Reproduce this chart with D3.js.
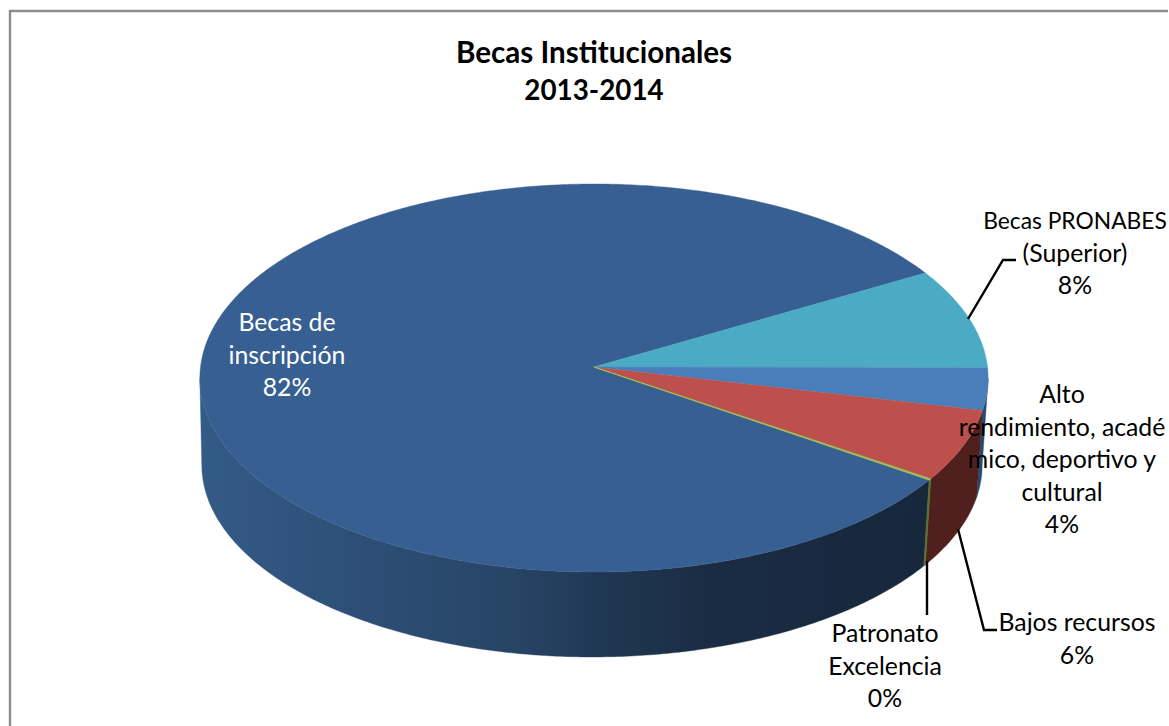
<!DOCTYPE html>
<html>
<head>
<meta charset="utf-8">
<script src="https://cdn.jsdelivr.net/npm/d3@7"></script>
<style>
  html, body { margin: 0; padding: 0; background: #fff; }
  svg { display: block; }
  text { font-family: Lato, "Open Sans", sans-serif; }
</style>
</head>
<body>
<svg id="chart" width="1169" height="726"></svg>
<script>
// Chart values, in the order of the original series
var categories = ["Becas de inscripción", "Becas PRONABES (Superior)", "Alto rendimiento, académico, deportivo y cultural", "Bajos recursos", "Patronato Excelencia"];
var shares     = [82.1, 8.4, 3.5, 5.9, 0.1];
var percents   = ["82%", "8%", "4%", "6%", "0%"];
var top_colors = ["#375f92", "#4babc5", "#4a7ebb", "#bd504d", "#9bbb59"];

var title_lines = ["Becas Institucionales", "2013-2014"];

// Positions of the labels, separate from the data
var LABELS = [
  { x: 287,  y: 331, fill: "#fff", lines: ["Becas de", "inscripción", "82%"] },
  { x: 1075, y: 229, fill: "#000", lines: ["Becas PRONABES", "(Superior)", "8%"] },
  { x: 1062, y: 403, fill: "#000", lines: ["Alto", "rendimiento, acadé", "mico, deportivo y", "cultural", "4%"] },
  { x: 1077, y: 631, fill: "#000", lines: ["Bajos recursos", "6%"] },
  { x: 885,  y: 642, fill: "#000", lines: ["Patronato", "Excelencia", "0%"] }
];

var LEADERS = [
  [[968, 319], [1003, 260], [1016, 260]],
  [[958, 529], [984, 630], [997, 630]],
  [[927, 561], [927, 615]]
];

// Where the pie sits on the page
var CX = 594, CY = 367, RX = 393.5, RY = 193.4, PERSP = 0.0567;
var DEPTH = 87, BOTTOM_SCALE = 0.99, BOTTOM_SHIFT = -2;
var LINE_H = 32.5;
var FIRST_GAP = -0.5236; // the big slice ends here, measured from 3 o'clock

var svg = d3.select("#chart");
var defs = svg.append("defs");

// Shade of the big slice's wall, it gets darker going right
var wall = defs.append("linearGradient")
  .attr("id", "wall-blue")
  .attr("gradientUnits", "userSpaceOnUse")
  .attr("x1", 200).attr("x2", 990).attr("y1", 0).attr("y2", 0);

[[0, "#345a86"], [0.2, "#2d4f77"], [0.4, "#274465"], [0.52, "#1f3652"], [0.65, "#1a2c43"], [1, "#16263a"]]
  .forEach(function (s) {
    wall.append("stop").attr("offset", s[0]).attr("stop-color", s[1]);
  });

var wall_fill = ["url(#wall-blue)", "#254d6e", "#274a72", "#4f201e", "#5b6e34"];

// The frame only shows on the top and left
svg.append("path")
  .attr("d", "M10,726V11H1168")
  .attr("fill", "none")
  .attr("stroke", "#8c8c8c")
  .attr("stroke-width", 2.4);

// Perspective view of the disc: angle 0 points right, positive goes clockwise on screen
function project(angle, level) {
  var s = Math.sin(angle), w = 1 - PERSP * s;
  var scale = level ? BOTTOM_SCALE : 1;
  return [
    CX + (level ? BOTTOM_SHIFT : 0) + scale * RX * Math.cos(angle) / w,
    CY + (level ? DEPTH : 0) + scale * RY * s / w
  ];
}

// d3.pie measures from 12 o'clock, the projection from 3 o'clock
var first_end = FIRST_GAP + Math.PI / 2;
var first_start = first_end - 2 * Math.PI * shares[0] / d3.sum(shares);

var pie = d3.pie()
  .sort(null)
  .startAngle(first_start)
  .endAngle(first_start + 2 * Math.PI);

var slices = pie(shares).map(function (d, i) {
  return {
    i: i,
    a0: d.startAngle - Math.PI / 2,
    a1: d.endAngle - Math.PI / 2
  };
});

var line = d3.line();

function arc_points(a0, a1, level) {
  var n = Math.max(2, Math.ceil((a1 - a0) / 0.01));
  return d3.range(n + 1).map(function (k) {
    return project(a0 + (a1 - a0) * k / n, level);
  });
}

function wall_points(a0, a1) {
  return arc_points(a0, a1, 0).concat(arc_points(a0, a1, 1).reverse());
}

// Only the near half of the rim shows, so clamp each slice to it.  The first
// slice wraps round, so shift its angles until they land on the near half.
// The ends sit where the ellipse is widest, slightly below the apex.
var NEAR0 = 0.06, NEAR1 = Math.PI - 0.06;
var walls = [];

slices.forEach(function (d) {
  [0, 2 * Math.PI].forEach(function (shift) {
    var a0 = Math.max(d.a0 + shift, NEAR0);
    var a1 = Math.min(d.a1 + shift, NEAR1);
    if (a1 > a0) {
      walls.push({ i: d.i, a0: a0, a1: a1 });
    }
  });
});

svg.append("g").selectAll("path")
  .data(walls)
  .enter().append("path")
  .attr("d", function (d) { return line(wall_points(d.a0, d.a1)) + "Z"; })
  .attr("fill", function (d) { return wall_fill[d.i]; })
  .attr("stroke", function (d) { return wall_fill[d.i]; })
  .attr("stroke-width", function (d) { return d.i === 4 ? 1 : 0.4; });

svg.append("g").selectAll("path")
  .data(slices)
  .enter().append("path")
  .attr("d", function (d) {
    return line([[CX, CY]].concat(arc_points(d.a0, d.a1, 0))) + "Z";
  })
  .attr("fill", function (d) { return top_colors[d.i]; })
  .attr("stroke", function (d) { return top_colors[d.i]; })
  .attr("stroke-width", function (d) { return d.i === 4 ? 1 : 0.4; });

// Leader lines
svg.append("g").selectAll("path")
  .data(LEADERS)
  .enter().append("path")
  .attr("d", function (d) { return line(d); })
  .attr("fill", "none")
  .attr("stroke", "#000")
  .attr("stroke-width", 2.4);

// Labels
LABELS.forEach(function (lab) {
  svg.append("g").selectAll("text")
    .data(lab.lines)
    .enter().append("text")
    .attr("x", lab.x)
    .attr("y", function (d, i) { return lab.y + i * LINE_H; })
    .attr("text-anchor", "middle")
    // Lato's capitals run wider than the original face, this line has to fit the page
    .attr("font-size", function (d) { return d === "Becas PRONABES" ? 22.8 : 24.8; })
    .attr("fill", lab.fill)
    .text(function (d) { return d; });
});

// Title
svg.append("g").selectAll("text")
  .data(title_lines)
  .enter().append("text")
  .attr("x", 594)
  .attr("y", function (d, i) { return 63 + i * 37; })
  .attr("text-anchor", "middle")
  .attr("font-size", function (d, i) { return i ? 27.8 : 29.6; })
  .attr("font-weight", "bold")
  .attr("fill", "#000")
  .text(function (d) { return d; });
</script>
</body>
</html>
